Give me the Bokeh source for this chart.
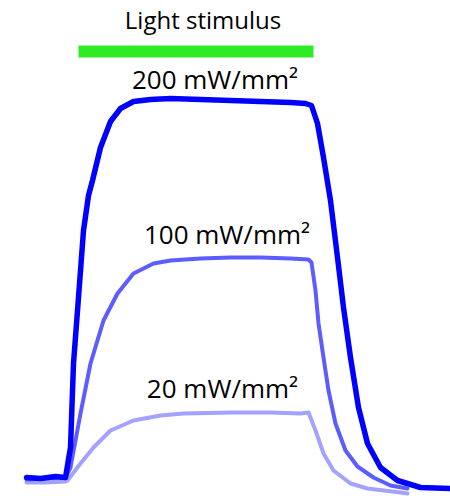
from bokeh.plotting import figure
from bokeh.models import Range1d
from bokeh.core.properties import value
from bokeh.embed import file_html
from bokeh.resources import INLINE

# time (ms, arbitrary offset) and response amplitude (arbitrary units)
t_200 = [-39, -25, -10, 0, 5, 8, 13, 18, 23, 27, 35, 45, 55, 68, 85, 105, 135, 165, 195, 225, 240, 246,
         252, 258, 265, 272, 278, 285, 293, 302, 315, 332, 355, 385]
a_200 = [0, -1, 1, 0, 30, 114, 180, 247, 282, 297, 330, 356, 369, 376, 378, 379, 378, 377, 376, 375, 374, 372,
         354, 320, 277, 220, 170, 120, 70, 34, 10, -3, -10, -11]

t_100 = [-39, -20, 0, 5, 15, 25, 38, 52, 68, 88, 105, 135, 165, 195, 225, 243, 246,
         250, 253, 258, 263, 270, 280, 292, 308, 325, 342]
a_100 = [-2, -1, 0, 10, 64, 114, 157, 184, 204, 214, 217, 219, 220, 220, 219, 218, 215,
         187, 154, 120, 87, 54, 27, 11, 0, -8, -11]

t_20 = [-39, -20, 0, 2, 15, 28, 45, 68, 95, 118, 168, 205, 235, 243,
        250, 258, 268, 285, 302, 335, 342]
a_20 = [-5, -5, -4, -3, 14, 30, 47, 57, 62, 64, 65, 65, 64, 65,
        47, 24, 7, -6, -11, -15, -16]

stim_on = 13
stim_off = 248

title = ["Light stimulus"]
title_t = [137.5]
title_a = [458]

labels = ["200 mW/mm²", "100 mW/mm²", "20 mW/mm²"]
label_t = [149.5, 161.5, 157]
label_a = [399, 244, 90]

p = figure(width=450, height=496, output_backend="svg", toolbar_location=None,
           x_range=Range1d(-65, 385), y_range=Range1d(-19, 477),
           min_border=0, min_border_left=0, min_border_right=0,
           min_border_top=0, min_border_bottom=0)
p.axis.visible = False
p.grid.visible = False
p.outline_line_color = None
p.background_fill_color = "white"

p.quad(left=[stim_on], right=[stim_off], bottom=[420], top=[432],
       fill_color="#2EEB26", line_color=None)

p.line(t_20, a_20, line_color="#A3A3FF", line_width=4, line_join="round", line_cap="round")
p.line(t_100, a_100, line_color="#5C5CFF", line_width=4, line_join="round", line_cap="round")
p.line(t_200, a_200, line_color="#0000FF", line_width=5.5, line_join="round", line_cap="round")

p.text(x=title_t, y=title_a, text=title, text_align="center", text_baseline="alphabetic",
       text_font=value("Open Sans"), text_font_size="24px", text_color="black")
p.text(x=label_t, y=label_a, text=labels, text_align="center", text_baseline="alphabetic",
       text_font=value("Open Sans"), text_font_size="26px", text_color="black")

open("out.html", "w").write(file_html(p, INLINE))
